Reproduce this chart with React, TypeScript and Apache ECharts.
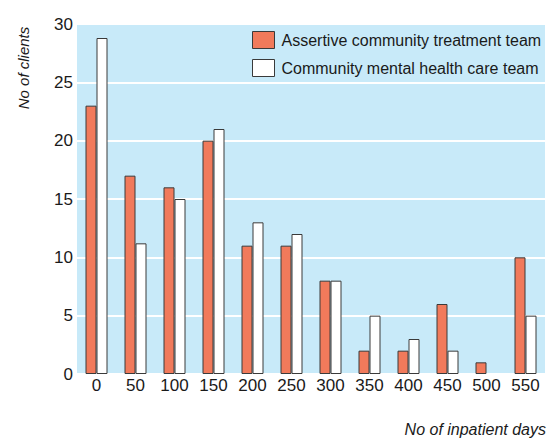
import React, { useEffect, useRef } from "react";
import * as echarts from "echarts";

const categories = ["0", "50", "100", "150", "200", "250", "300", "350", "400", "450", "500", "550"];
const actTeam = [23, 17, 16, 20, 11, 11, 8, 2, 2, 6, 1, 10];
const cmhtTeam = [28.8, 11.2, 15, 21, 13, 12, 8, 5, 3, 2, 0, 5];
const yTicks = [0, 5, 10, 15, 20, 25, 30];
const seriesNames = ["Assertive community treatment team", "Community mental health care team"];
const axisNames = { x: "No of inpatient days", y: "No of clients" };

const FONT = "'Liberation Sans', Arial, sans-serif";
const ORANGE = "#f17a5b";
const BORDER = "#3a3a3a";

const toData = (arr: number[]) =>
  arr.map((v) => (v === 0 ? { value: v, itemStyle: { borderWidth: 0 } } : v));

export default function App() {
  const ref = useRef<HTMLDivElement>(null);
  useEffect(() => {
    if (!ref.current) return;
    const chart = echarts.init(ref.current, null, { renderer: "svg" });
    chart.setOption({
      animation: false,
      backgroundColor: "#ffffff",
      textStyle: { fontFamily: FONT },
      grid: {
        left: 77,
        right: 2,
        top: 24,
        bottom: 65,
        show: true,
        backgroundColor: "#c8eaf9",
        borderWidth: 0,
        outerBoundsMode: "none",
        containLabel: false,
      },
      legend: {
        left: 252,
        top: 31,
        padding: 0,
        orient: "vertical",
        itemWidth: 22,
        itemHeight: 17,
        itemGap: 10,
        icon: "rect",
        textStyle: { fontSize: 16, color: "#1a1a1a", fontFamily: FONT, padding: [0, 0, 0, 2] },
        data: [
          { name: seriesNames[0], itemStyle: { color: ORANGE, borderColor: BORDER, borderWidth: 1 } },
          { name: seriesNames[1], itemStyle: { color: "#ffffff", borderColor: BORDER, borderWidth: 1 } },
        ],
      },
      graphic: [
        {
          type: "text",
          x: 23,
          y: 68,
          rotation: Math.PI / 2,
          style: {
            text: axisNames.y,
            font: `italic 15px ${FONT}`,
            fill: "#1a1a1a",
            textAlign: "center",
            textVerticalAlign: "middle",
          },
        },
        {
          type: "text",
          x: 546,
          y: 429,
          style: {
            text: axisNames.x,
            font: `italic 16px ${FONT}`,
            fill: "#1a1a1a",
            textAlign: "right",
            textVerticalAlign: "middle",
          },
        },
      ],
      xAxis: {
        type: "category",
        data: categories,
        axisLine: { show: false },
        axisTick: { show: false },
        axisLabel: { fontSize: 17, color: "#1a1a1a", margin: 3, fontFamily: FONT },
      },
      yAxis: {
        type: "value",
        min: 0,
        max: 30,
        interval: 5,
        axisLine: { show: false },
        axisTick: { show: false },
        axisLabel: {
          fontSize: 17,
          color: "#1a1a1a",
          margin: 4,
          fontFamily: FONT,
          formatter: (v: number) => (yTicks.includes(v) ? String(v) : ""),
        },
        splitLine: { show: true, lineStyle: { color: "#ffffff", width: 2 } },
      },
      series: [
        {
          name: seriesNames[0],
          type: "bar",
          data: toData(actTeam),
          barWidth: 11,
          barGap: "0%",
          itemStyle: { color: ORANGE, borderColor: BORDER, borderWidth: 1 },
        },
        {
          name: seriesNames[1],
          type: "bar",
          data: toData(cmhtTeam),
          barWidth: 11,
          barGap: "0%",
          itemStyle: { color: "#ffffff", borderColor: BORDER, borderWidth: 1 },
        },
      ],
    });
    return () => chart.dispose();
  }, []);
  return (
    <div
      ref={ref}
      style={{ position: "fixed", left: 0, top: 0, width: 547, height: 439 }}
    />
  );
}
